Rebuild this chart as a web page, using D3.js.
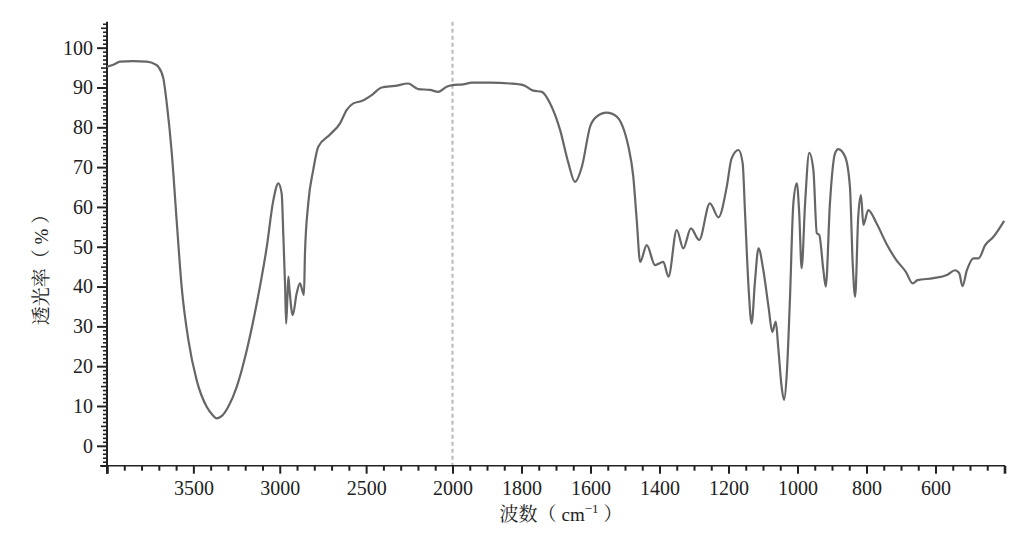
<!DOCTYPE html>
<html><head><meta charset="utf-8">
<script src="https://cdn.jsdelivr.net/npm/d3@7/dist/d3.min.js"></script>
<style>
html,body{margin:0;padding:0;background:#fff;}
svg{display:block;}
</style></head>
<body>
<svg id="chart" width="1030" height="545"></svg>
<script>
// wavenumber (cm-1) and transmittance (%)
const wavenumber = [4000,3960,3925,3850,3770,3720,3703,3674,3654,3625,3597,3568,3529,3481,3423,3390,3365,3335,3298,3249,3191,3133,3075,3037,3008,2989,2979,2969,2963,2955,2950,2945,2925,2902,2883,2866,2860,2854,2835,2806,2777,2709,2651,2613,2574,2526,2468,2410,2333,2256,2198,2130,2082,2034,2000,1969,1944,1891,1833,1795,1766,1741,1717,1688,1664,1645,1625,1601,1582,1553,1524,1500,1490,1476,1466,1456,1437,1413,1389,1374,1350,1331,1309,1285,1254,1229,1205,1191,1171,1159,1152,1142,1133,1123,1113,1099,1084,1073,1063,1056,1046,1039,1031,1022,1012,1002,995,988,978,966,954,944,937,925,918,906,891,882,862,848,840,833,824,816,809,795,771,743,714,686,666,652,606,567,543,531,522,509,490,475,456,432,401];
const transmittance = [95.2,95.8,96.5,96.6,96.5,95.8,95.2,92.3,86,73.5,56.7,40,26.6,16.5,9.8,7.8,6.9,7.5,9.8,14.8,24,35.8,50,61.7,65.9,63.4,52.5,40,30.7,38,42.5,40,32.8,38.3,40.8,38.5,37.9,48.3,60.9,69.3,75.1,78.2,81,84.3,86,86.6,88.1,90,90.4,91,89.6,89.4,88.9,90.2,90.6,90.8,91.2,91.2,91,90.6,89.2,88.9,86,79.3,71,66.3,70.1,80.2,82.7,83.7,82.7,78.5,75.1,67.6,56.7,46.2,50.4,45.4,46.2,42.5,54.2,49.6,54.6,51.7,60.9,57.4,65.1,72.2,74.3,71,58.4,40,30.7,41.6,49.6,44.1,34.9,28.6,31.2,24.9,14.8,11.5,18.2,36.6,60.9,65.9,58.4,44.6,60.9,73.6,69.3,53.4,53,44.1,40,60.9,73.5,74.5,72.6,65,45.8,37.4,57.5,63,55.5,59.2,55.9,50.9,46.7,43.7,40.8,41.6,42.1,42.9,44.1,43.3,40.1,44.1,47.1,47.1,50.4,52.5,56.5];
const xMajorTicks = [3500,3000,2500,2000,1800,1600,1400,1200,1000,800,600];
const yMajorTicks = [0,10,20,30,40,50,60,70,80,90,100];
const splitAt = 2000;

const SERIF = '"Liberation Serif","Noto Serif CJK SC",serif';
const CJK = '"Noto Serif CJK SC","Liberation Serif",serif';

const svg = d3.select("#chart");
const x = d3.scaleLinear().domain([4000, 2000, 400]).range([107, 452.5, 1004.5]);
const y = d3.scaleLinear().domain([-5, 106.5]).range([465.7, 21.8]);

function styleAxis(g, w) {
  g.select(".domain").remove();
  g.selectAll("line").attr("stroke", "#222").attr("stroke-width", w);
  g.selectAll("text").style("font-family", SERIF).style("font-size", "20px").attr("fill", "#222");
}

// dashed split line
svg.append("line")
  .attr("x1", x(splitAt)).attr("x2", x(splitAt))
  .attr("y1", y(106.5)).attr("y2", y(-5))
  .attr("stroke", "#bdbdbd").attr("stroke-width", 2.2).attr("stroke-dasharray", "4,3");

// x ticks
const xMinor = d3.range(4000, 1999, -100).concat(d3.range(1950, 399, -50))
  .filter(v => xMajorTicks.indexOf(v) < 0 && v !== 4000 && v !== 400);
svg.append("g").attr("transform", `translate(0,${y(-5)})`)
  .call(d3.axisBottom(x).tickValues(xMinor).tickSize(5).tickFormat("").tickSizeOuter(0))
  .call(g => styleAxis(g, 2));
svg.append("g").attr("transform", `translate(0,${y(-5)})`)
  .call(d3.axisBottom(x).tickValues(xMajorTicks).tickSize(8).tickPadding(7).tickFormat(d3.format("d")).tickSizeOuter(0))
  .call(g => styleAxis(g, 2));
svg.append("g").attr("transform", `translate(0,${y(-5)})`)
  .call(d3.axisBottom(x).tickValues([4000, 400]).tickSize(8).tickFormat("").tickSizeOuter(0))
  .call(g => styleAxis(g, 2.6));

svg.append("line").attr("x1", 100).attr("x2", 1005).attr("y1", y(-5)).attr("y2", y(-5))
  .attr("stroke", "#222").attr("stroke-width", 1.6);

// y ticks
const yMinor = d3.range(-5, 107, 1).filter(v => v % 5 !== 0);
const yMid = d3.range(-5, 107, 5).filter(v => v % 10 !== 0);
svg.append("g").attr("transform", `translate(107,0)`)
  .call(d3.axisLeft(y).tickValues(yMinor).tickSize(4).tickFormat("").tickSizeOuter(0))
  .call(g => styleAxis(g, 1.6));
svg.append("g").attr("transform", `translate(107,0)`)
  .call(d3.axisLeft(y).tickValues(yMid).tickSize(6).tickFormat("").tickSizeOuter(0))
  .call(g => styleAxis(g, 1.6));
svg.append("g").attr("transform", `translate(107,0)`)
  .call(d3.axisLeft(y).tickValues(yMajorTicks).tickSize(10).tickPadding(4).tickFormat(d3.format("d")).tickSizeOuter(0))
  .call(g => styleAxis(g, 2));

svg.append("line").attr("x1", 107).attr("x2", 107).attr("y1", y(106.5)).attr("y2", y(-5) + 8)
  .attr("stroke", "#222").attr("stroke-width", 2);

// spectrum line
const data = wavenumber.map((w, i) => ({w, t: transmittance[i]}));
svg.append("path").datum(data)
  .attr("fill", "none").attr("stroke", "#666").attr("stroke-width", 2.2)
  .attr("stroke-linejoin", "round")
  .attr("d", d3.line().x(d => x(d.w)).y(d => y(d.t)).curve(d3.curveMonotoneX));

// axis titles
const xt = svg.append("text").attr("x", 561).attr("y", 521).attr("text-anchor", "middle")
  .style("font-family", SERIF).style("font-size", "19px").attr("fill", "#222");
xt.append("tspan").text("波数（ ").style("font-family", CJK);
xt.append("tspan").text("cm");
xt.append("tspan").text("−1").attr("dy", -8).style("font-size", "13px");
xt.append("tspan").text(" ）").attr("dy", 8).style("font-family", CJK);

const yt = svg.append("text").attr("transform", "translate(48,265) rotate(-90)").attr("text-anchor", "middle")
  .style("font-family", CJK).style("font-size", "19px").attr("fill", "#222");
yt.append("tspan").text("透光率（ ");
yt.append("tspan").text("%").style("font-family", SERIF);
yt.append("tspan").text(" ）");
</script>
</body></html>
